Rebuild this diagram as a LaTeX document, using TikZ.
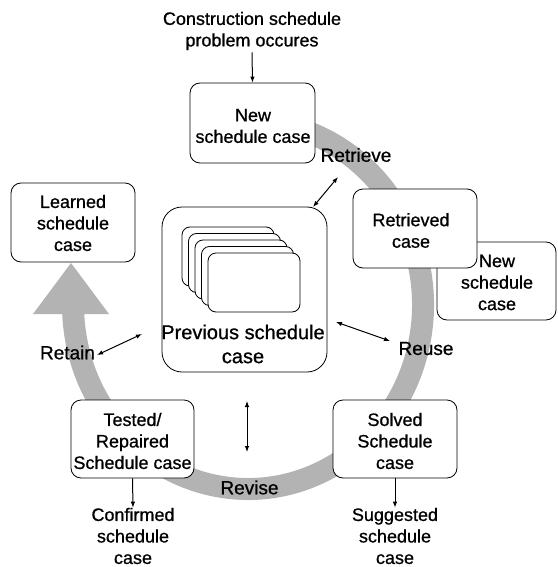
\documentclass[tikz,border=0pt]{standalone}
\usepackage{fontspec}
\setmainfont{Liberation Sans}[FakeBold=0.8]
\usetikzlibrary{arrows.meta}
\definecolor{ringgray}{RGB}{179,179,179}
\begin{document}
\begin{tikzpicture}[x=1pt,y=-1pt,
  casebox/.style={draw=black, line width=0.8pt, fill=white, rounded corners=10pt, inner sep=0pt},
  boxtext/.style={align=center, inner sep=1pt, font=\fontsize{18}{21.5}\selectfont},
  steplabel/.style={inner sep=1pt, font=\fontsize{19}{22}\selectfont},
  link/.style={line width=1pt, -{Latex[length=6pt,width=4.5pt]}},
  duallink/.style={line width=1pt, {Latex[length=6pt,width=4.5pt]}-{Latex[length=6pt,width=4.5pt]}},
]
\useasboundingbox (0,0) rectangle (557,567);

% the grey CBR cycle band with its big arrow head
\draw[ringgray, line width=22pt] (284.4,125)
  arc[start angle=78, end angle=-178, x radius=175pt, y radius=184pt];
\fill[ringgray] (33,314) -- (109,314) -- (71,263) -- cycle;

% step labels on the cycle
\node[steplabel] (retrieve) at (356,155) {Retrieve};
\node[steplabel] (reuse) at (426,348.5) {Reuse};
\node[steplabel] (retain) at (67.5,352.5) {Retain};
\node[steplabel] (revise) at (249.5,487.5) {Revise};

% case boxes
\node[casebox, minimum width=125pt, minimum height=80pt] (newb) at (252.5,123) {};
\node[boxtext] (newbt) at (253,126) {New\\schedule case};

\node[casebox, minimum width=119pt, minimum height=78pt] (newc) at (496.5,281) {};
\node[boxtext] (newct) at (497,282.5) {New\\schedule\\case};

\node[casebox, minimum width=124pt, minimum height=79pt] (retb) at (415,228.5) {};
\node[boxtext] (retbt) at (411,230.5) {Retrieved\\case};

\node[casebox, minimum width=124pt, minimum height=79pt] (learnb) at (73,222.5) {};
\node[boxtext] (learnbt) at (73,223) {Learned\\schedule\\case};

\node[casebox, minimum width=123pt, minimum height=78pt] (testb) at (132.5,439) {};
\node[boxtext] (testbt) at (132.5,441) {Tested/\\Repaired\\Schedule case};

\node[casebox, minimum width=124pt, minimum height=78pt] (solvb) at (395,439) {};
\node[boxtext] (solvbt) at (395,441) {Solved\\Schedule\\case};

% case base with its stack of stored cases
\node[casebox, rounded corners=20pt, minimum width=165pt, minimum height=165pt] (prev) at (244.5,289.5) {};
\foreach \k in {0,...,4}
  \node[casebox, rounded corners=8pt, minimum width=92pt, minimum height=59pt]
    (card\k) at (228+6.5*\k,256.5+6.5*\k) {};
\node[inner sep=1pt, align=center, font=\fontsize{20}{24}\selectfont] (prevt) at (243,344) {Previous schedule\\case};

% inputs and outputs
\node[boxtext, inner sep=2pt] (problem) at (252,31) {Construction schedule\\problem occures};
\node[boxtext, inner sep=0pt] (confirmed) at (133,536) {Confirmed\\schedule\\case};
\node[boxtext, inner sep=0pt] (suggested) at (395,536) {Suggested\\schedule\\case};

\draw[link] (problem.south) -- (newb.north);
\draw[link] (testb.south) -- (confirmed.north);
\draw[link] (solvb.south) -- (suggested.north);

% exchanges with the case base
\coordinate (retA) at (313,207);
\coordinate (retB) at (338,177);
\coordinate (reuA) at (336,322);
\coordinate (reuB) at (390,341);
\coordinate (rtnA) at (97,355);
\coordinate (rtnB) at (142,334);
\coordinate (revA) at (247,401);
\coordinate (revB) at (247,452);
\draw[duallink] (retA) -- (retB);
\draw[duallink] (reuA) -- (reuB);
\draw[duallink] (rtnA) -- (rtnB);
\draw[duallink] (revA) -- (revB);
\end{tikzpicture}
\end{document}
